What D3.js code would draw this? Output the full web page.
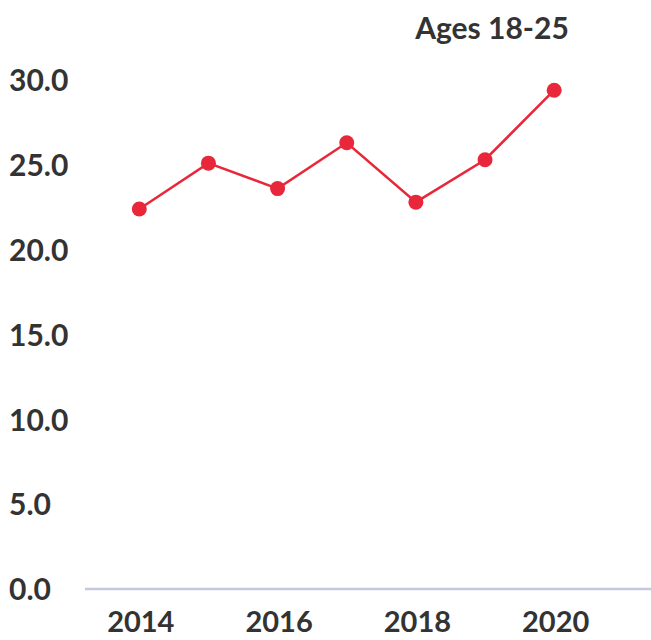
<!DOCTYPE html>
<html><head><meta charset="utf-8">
<script src="https://cdn.jsdelivr.net/npm/d3@7"></script>
<style>body{margin:0;background:#fff}svg{display:block}</style>
</head><body>
<svg id="c" width="651" height="640"></svg>
<script>
const years = [2014, 2015, 2016, 2017, 2018, 2019, 2020];
const values = [22.4, 25.1, 23.6, 26.3, 22.8, 25.3, 29.4];
const yTicks = [0, 5, 10, 15, 20, 25, 30];
const xTicks = [2014, 2016, 2018, 2020];
const seriesName = "Ages 18-25";

const svg = d3.select("#c");
const font = "Lato, 'Open Sans', sans-serif";
const txt = "#333333";
const red = "#e8283a";

const x = d3.scaleLinear().domain([2013.215, 2021.4]).range([85, 651]);
const y = d3.scaleLinear().domain([0, 30]).range([589, 80]);

// baseline
svg.append("line")
  .attr("x1", x.range()[0]).attr("x2", x.range()[1])
  .attr("y1", y(0)).attr("y2", y(0))
  .attr("stroke", "#c4c8da").attr("stroke-width", 2.5);

// y axis labels
const ya = svg.append("g").attr("transform", "translate(9,0)")
  .call(d3.axisLeft(y).tickValues(yTicks).tickSize(0).tickFormat(d3.format(".1f")));
ya.select(".domain").remove();
ya.selectAll("text").attr("x", 0).attr("dy", "0.36em").attr("text-anchor", "start")
  .attr("fill", txt).style("font-family", font).style("font-size", "30px").style("font-weight", "bold");

// x axis labels
const xa = svg.append("g").attr("transform", `translate(1,${y(0)})`)
  .call(d3.axisBottom(x).tickValues(xTicks).tickSize(0).tickFormat(d3.format("d")));
xa.select(".domain").remove();
xa.selectAll("text").attr("y", 33).attr("dy", "0.36em")
  .attr("fill", txt).style("font-family", font).style("font-size", "29px").style("font-weight", "bold");

// title / series label
svg.append("text").attr("x", 492).attr("y", 28).attr("dy", "0.36em")
  .attr("text-anchor", "middle").attr("fill", txt)
  .style("font-family", font).style("font-size", "30px").style("font-weight", "bold")
  .text(seriesName);

const data = years.map((yr, i) => ({yr, v: values[i]}));
svg.append("path").datum(data)
  .attr("fill", "none").attr("stroke", red).attr("stroke-width", 2.5)
  .attr("d", d3.line().x(d => x(d.yr)).y(d => y(d.v)));
svg.selectAll("circle.pt").data(data).join("circle").attr("class", "pt")
  .attr("cx", d => x(d.yr)).attr("cy", d => y(d.v)).attr("r", 7.5).attr("fill", red);
</script>
</body></html>
